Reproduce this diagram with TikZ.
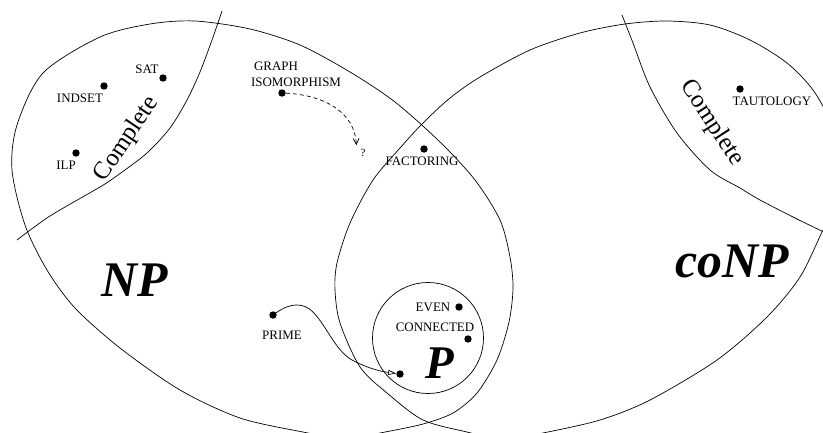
\documentclass[tikz,border=0pt]{standalone}
\usepackage{fontspec}
\setmainfont{Liberation Serif}
\usetikzlibrary{arrows.meta}
\begin{document}
\begin{tikzpicture}[x=1bp,y=-1bp,
  curve/.style={line width=0.7bp},
  dot/.style={circle,fill=black,inner sep=0pt,minimum size=7.4bp},
  lbl/.style={font=\fontsize{13}{13}\selectfont,inner sep=0pt},
  big/.style={font=\fontsize{50}{50}\selectfont\bfseries\itshape,inner sep=0pt},
  cmpl/.style={font=\fontsize{25}{25}\selectfont,inner sep=0pt}]
\useasboundingbox (0,0) rectangle (823,432);
\begin{scope}
\clip (0,0) rectangle (823,432);
% NP
\draw[curve] plot[smooth cycle] coordinates {
 (12,170) (17,125) (43,73) (100,37) (150,24) (195,21) (250,29) (300,45)
 (350,72) (395,102) (440,142) (475,180) (500,220) (510,257) (513,288)
 (509,322) (497,360) (477,393) (453,413) (423,424) (385,432) (345,439)
 (303,432) (240,418) (180,390) (120,348) (75,308) (47,270) (25,225)};
% coNP
\draw[curve] plot[smooth cycle] coordinates {
 (625,24) (667,21) (710,25) (750,40) (787,63) (813,90) (832,125) (842,165)
 (836,205) (822,232) (800,277) (767,317) (717,360) (650,400) (600,420)
 (543,433) (504,440) (467,432) (423,420) (387,393) (360,367) (340,323)
 (335,290) (337,263) (350,223) (373,180) (400,148) (423,123) (450,98)
 (480,77) (530,50) (580,33)};
% Complete boundaries
\draw[curve] plot[smooth] coordinates {
 (222,11) (212,40) (200,72) (187,100) (170,128) (147,153) (118,175)
 (100,187) (50,216) (17,240)};
\draw[curve] plot[smooth] coordinates {
 (622,15) (633,43) (650,87) (677,133) (710,170) (740,188) (760,200)
 (797,219) (830,235)};
\end{scope}
% P circle
\draw[curve] (428,338) circle[radius=55.5];

% big labels
\node[big] (np) at (135,280) {NP};
\node[big] (conp) at (732,261) {coNP};
\node[font=\fontsize{47}{47}\selectfont\bfseries\itshape,inner sep=0pt] (p) at (440,363) {P};
\node[cmpl,rotate=56] (cl) at (127,139) {Complete};
\node[cmpl,rotate=-57] (cr) at (712,123) {Complete};

% dots and labels
\node[dot] (sat) at (163,78) {};
\node[lbl] (satl) at (147,69) {SAT};
\node[dot] (indset) at (104,86) {};
\node[lbl] (indsetl) at (80,98) {INDSET};
\node[dot] (ilp) at (76,153) {};
\node[lbl] (ilpl) at (66,165) {ILP};
\node[dot] (gi) at (282,93) {};
\node[lbl] (gil1) at (276,66) {GRAPH};
\node[lbl] (gil2) at (296,82) {ISOMORPHISM};
\node[font=\fontsize{11}{11}\selectfont,inner sep=4bp] (q) at (363,153) {?};
\node[dot] (fact) at (424,149) {};
\node[lbl] (factl) at (422,161) {FACTORING};
\node[dot] (taut) at (740,89) {};
\node[lbl] (tautl) at (772,101) {TAUTOLOGY};
\node[dot] (prime) at (273,315) {};
\node[lbl] (primel) at (282,335) {PRIME};
\node[dot] (even) at (459,307) {};
\node[lbl] (evenl) at (433,307) {EVEN};
\node[dot] (conn) at (468,339) {};
\node[lbl] (connl) at (435,327) {CONNECTED};
\node[dot] (pt) at (400,374) {};

% connectors
\draw[curve,dash pattern=on 4bp off 3bp,-{Straight Barb[length=6bp,width=6bp]}]
  (gi) .. controls (325,95) and (355,113) .. (q.north west);
\draw[curve,-{Triangle[open,length=8bp,width=5bp]}]
  (prime) .. controls (290,303) and (303,302) .. (313,312)
  .. controls (328,328) and (335,350) .. (352,360)
  .. controls (365,367) and (378,371) .. (pt);
\end{tikzpicture}
\end{document}
